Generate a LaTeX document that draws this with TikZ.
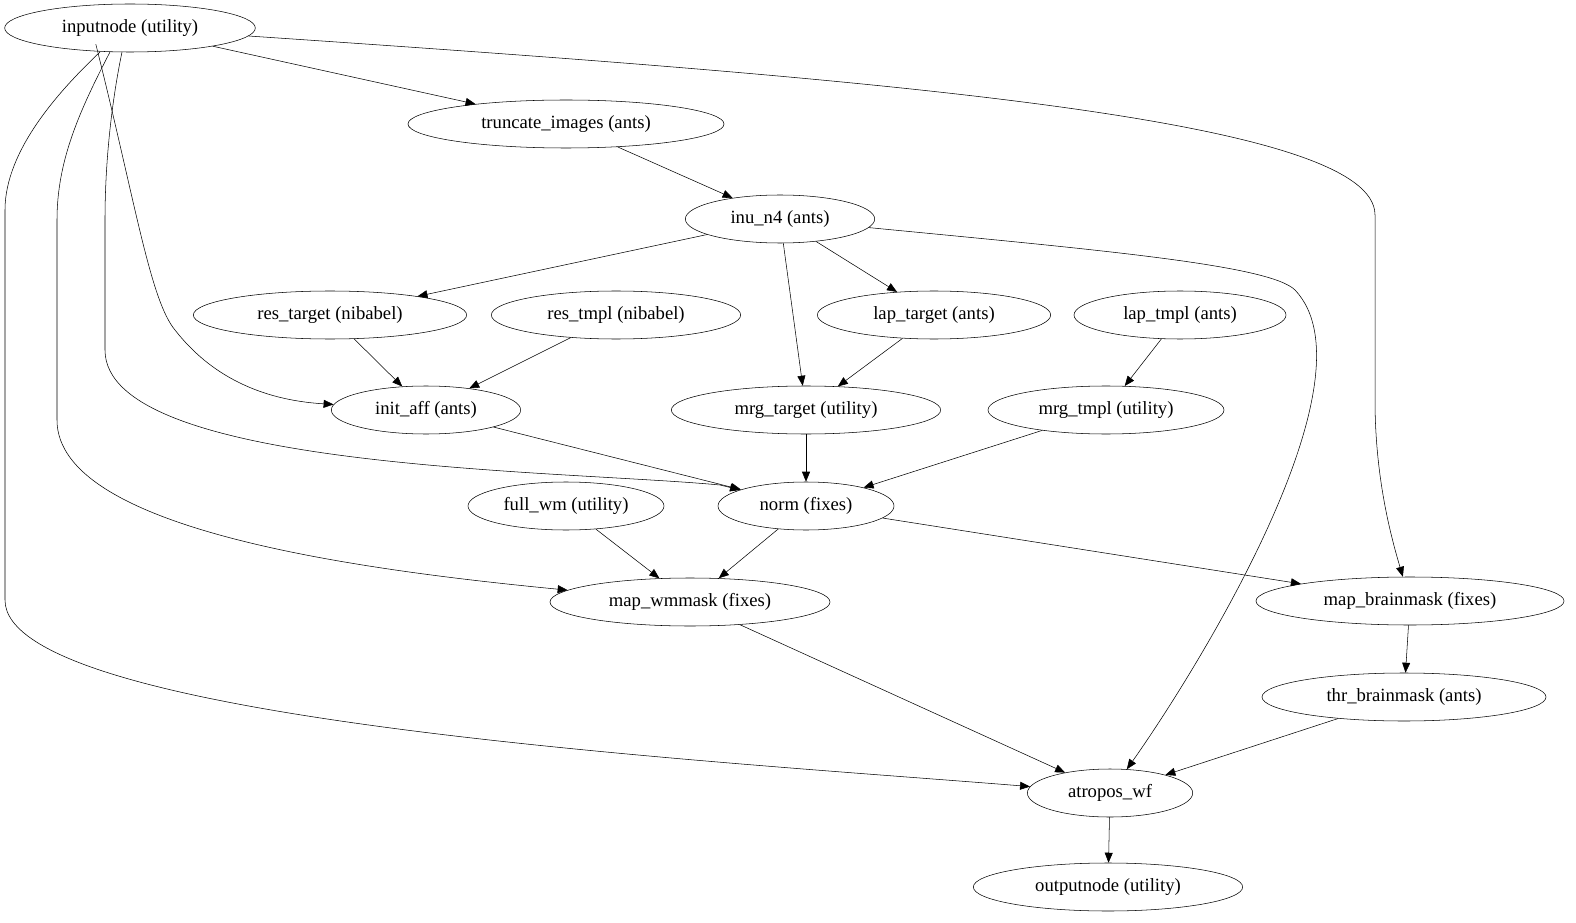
\documentclass[tikz,border=0pt]{standalone}
\usepackage{fontspec}
\setmainfont{Liberation Serif}
\usetikzlibrary{shapes.geometric,arrows.meta}
\begin{document}
\begin{tikzpicture}[x=0.75pt,y=-0.75pt,
  box/.style={draw, ellipse, inner sep=0pt, minimum height=36pt, font=\fontsize{14}{16}\selectfont},
  pile/.style={-{Triangle[length=7.5pt,width=6pt]}}]

	\useasboundingbox (0,0) rectangle (1576,923);

	% Nodes
	\node[box, minimum width=188pt] (inp) at (130,28) {inputnode (utility)};
	\node[box, minimum width=237pt] (trunc) at (566,124) {truncate\_images (ants)};
	\node[box, minimum width=142pt] (inu) at (780,219) {inu\_n4 (ants)};
	\node[box, minimum width=205pt] (restgt) at (330,315) {res\_target (nibabel)};
	\node[box, minimum width=187pt] (restpl) at (616,315) {res\_tmpl (nibabel)};
	\node[box, minimum width=175pt] (laptgt) at (934,315) {lap\_target (ants)};
	\node[box, minimum width=159pt] (laptpl) at (1180,315) {lap\_tmpl (ants)};
	\node[box, minimum width=142pt] (init) at (426,410) {init\_aff (ants)};
	\node[box, minimum width=202pt] (mrgtgt) at (806,410) {mrg\_target (utility)};
	\node[box, minimum width=177pt] (mrgtpl) at (1106,410) {mrg\_tmpl (utility)};
	\node[box, minimum width=147pt] (fullwm) at (566,506) {full\_wm (utility)};
	\node[box, minimum width=132pt] (norm) at (806,506) {norm (fixes)};
	\node[box, minimum width=210pt] (mapwm) at (690,602) {map\_wmmask (fixes)};
	\node[box, minimum width=231pt] (mapbm) at (1410,601) {map\_brainmask (fixes)};
	\node[box, minimum width=213pt] (thrbm) at (1404,697) {thr\_brainmask (ants)};
	\node[box, minimum width=124pt] (atr) at (1110,793) {atropos\_wf};
	\node[box, minimum width=202pt] (out) at (1108,887) {outputnode (utility)};

	% Curved edges from inputnode
	\draw[pile] (inp) .. controls (900,80) and (1375,120) .. (1375,215) -- (1375,400) .. controls (1375,480) and (1392,540) .. (mapbm);
	\draw[pile] (inp.south east) ++(-123,-1) .. controls (135,200) and (150,300) .. (175,330) .. controls (210,375) and (260,400) .. (init);
	\draw[pile] (122,52) .. controls (110,110) and (105,170) .. (105,220) -- (105,350) .. controls (105,470) and (560,470) .. (720,485) -- (norm);
	\draw[pile] (110,52) .. controls (80,110) and (57,160) .. (57,220) -- (57,420) .. controls (57,530) and (360,570) .. (mapwm);
	\draw[pile] (100,52) .. controls (60,90) and (5,150) .. (5,210) -- (5,600) .. controls (5,720) and (700,760) .. (atr);
	\draw[pile] (inp) -- (trunc);

	% Edges from inu_n4
	\draw[pile] (trunc) -- (inu);
	\draw[pile] (inu) -- (restgt);
	\draw[pile] (inu) -- (mrgtgt);
	\draw[pile] (inu) -- (laptgt);
	\draw[pile] (inu) .. controls (1100,250) and (1270,265) .. (1295,290) .. controls (1380,380) and (1190,680) .. (atr);

	% Remaining edges
	\draw[pile] (restgt) -- (init);
	\draw[pile] (restpl) -- (init);
	\draw[pile] (laptgt) -- (mrgtgt);
	\draw[pile] (laptpl) -- (mrgtpl);
	\draw[pile] (init) -- (norm);
	\draw[pile] (mrgtgt) -- (norm);
	\draw[pile] (mrgtpl) -- (norm);
	\draw[pile] (fullwm) -- (mapwm);
	\draw[pile] (norm) -- (mapwm);
	\draw[pile] (norm) -- (mapbm);
	\draw[pile] (mapbm) -- (thrbm);
	\draw[pile] (thrbm) -- (atr);
	\draw[pile] (mapwm) -- (atr);
	\draw[pile] (atr) -- (out);

\end{tikzpicture}
\end{document}
